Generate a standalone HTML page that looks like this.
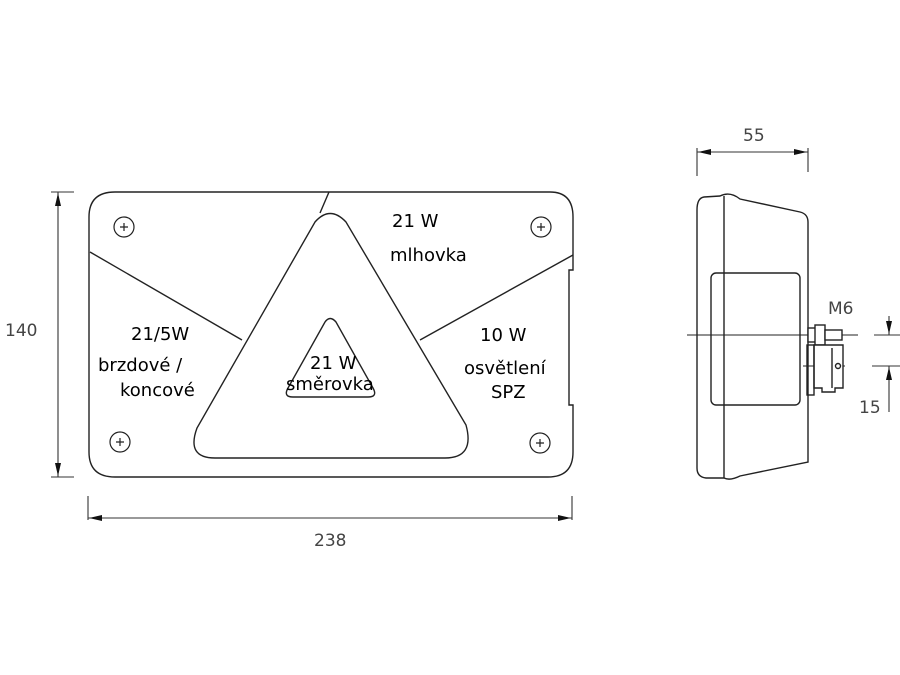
<!DOCTYPE html>
<html><head><style>
html,body{margin:0;padding:0;background:#fff;width:900px;height:675px;overflow:hidden}
svg{display:block}
.t{font-family:"DejaVu Sans","Liberation Sans",sans-serif;font-size:18px;fill:#000}
.d{font-family:"DejaVu Sans","Liberation Sans",sans-serif;font-size:17px;fill:#444}
</style></head><body>
<svg width="900" height="675" viewBox="0 0 900 675" xmlns="http://www.w3.org/2000/svg">
<g fill="none" stroke="#222" stroke-width="1.4">
<path d="M115,192 H550 Q573,192 573,217 V270 H569 V405 H573 V452 Q573,477 548,477 H115 Q89,477 89,452 V217 Q89,192 115,192 Z"/>
<line x1="329" y1="192" x2="320" y2="213"/>
<line x1="90" y1="252" x2="242" y2="340"/>
<line x1="573" y1="255" x2="420" y2="340"/>
<path d="M315,222 Q330,205 346,222 L466,425 Q475,458 445,458 L215,458 Q186,458 197,428 Z" fill="#fff"/>
<path d="M325,322 Q330,315 336,322 L373,388 Q378,397 368,397 L293,397 Q283,397 288,388 Z"/>
<g stroke-width="1.2">
<circle cx="124" cy="227" r="10"/><circle cx="541" cy="227" r="10"/>
<circle cx="120" cy="442" r="10"/><circle cx="540" cy="443" r="10"/>
<path d="M120,227h8M124,223v8M537,227h8M541,223v8M116,442h8M120,438v8M536,443h8M540,439v8"/>
</g>
<g stroke="#333" stroke-width="1.1">
<line x1="58" y1="192" x2="58" y2="477"/>
<line x1="51" y1="192" x2="74" y2="192"/>
<line x1="51" y1="477" x2="74" y2="477"/>
<line x1="88" y1="518" x2="572" y2="518"/>
<line x1="88" y1="496" x2="88" y2="520"/>
<line x1="572" y1="496" x2="572" y2="520"/>
</g>
<path d="M704,197 Q697,198 697,210 V468 Q697,477 706,478 L724,478 Q730,481 740,476 L808,462 V222 Q808,214 800,212 L740,199 Q730,191 720,196 Z"/>
<line x1="724" y1="196" x2="724" y2="478"/>
<rect x="711" y="273" width="89" height="132" rx="5"/>
<line x1="687" y1="335" x2="858" y2="335" stroke-width="1"/>
<line x1="803" y1="366" x2="845" y2="366" stroke-width="1"/>
<rect x="808" y="328" width="8" height="14" fill="#fff"/>
<rect x="815" y="325" width="10" height="20" fill="#fff"/>
<rect x="825" y="330" width="17" height="10" fill="#fff"/>
<path d="M814,345 H843 V388 H835 V392 H822 V388 H814 Z" fill="#fff"/>
<line x1="832" y1="348" x2="832" y2="388"/>
<circle cx="838" cy="366" r="2.5"/>
<rect x="807" y="345" width="7" height="50"/>
<g stroke="#333" stroke-width="1.1">
<line x1="697" y1="152" x2="808" y2="152"/>
<line x1="697" y1="148" x2="697" y2="176"/>
<line x1="808" y1="148" x2="808" y2="172"/>
<line x1="874" y1="335" x2="900" y2="335"/>
<line x1="872" y1="366" x2="900" y2="366"/>
<line x1="889" y1="316" x2="889" y2="335"/>
<line x1="889" y1="366" x2="889" y2="412"/>
</g>
</g>
<g fill="#111">
<path d="M58,193 L55,206 L61,206 Z"/>
<path d="M58,476 L55,463 L61,463 Z"/>
<path d="M89,518 L102,515 L102,521 Z"/>
<path d="M571,518 L558,515 L558,521 Z"/>
<path d="M698,152 L711,149 L711,155 Z"/>
<path d="M807,152 L794,149 L794,155 Z"/>
<path d="M889,334 L886,321 L892,321 Z"/>
<path d="M889,367 L886,380 L892,380 Z"/>
</g>
<text class="t" x="392" y="227">21 W</text>
<text class="t" x="390" y="261">mlhovka</text>
<text class="t" x="131" y="340">21/5W</text>
<text class="t" x="98" y="371">brzdové /</text>
<text class="t" x="120" y="396">koncové</text>
<text class="t" x="310" y="369">21 W</text>
<text class="t" x="286" y="390">směrovka</text>
<text class="t" x="480" y="341">10 W</text>
<text class="t" x="464" y="374">osvětlení</text>
<text class="t" x="491" y="398">SPZ</text>
<text class="d" x="5" y="336">140</text>
<text class="d" x="314" y="546">238</text>
<text class="d" x="743" y="141">55</text>
<text class="d" x="828" y="314">M6</text>
<text class="d" x="859" y="413">15</text>
</svg>
</body></html>
